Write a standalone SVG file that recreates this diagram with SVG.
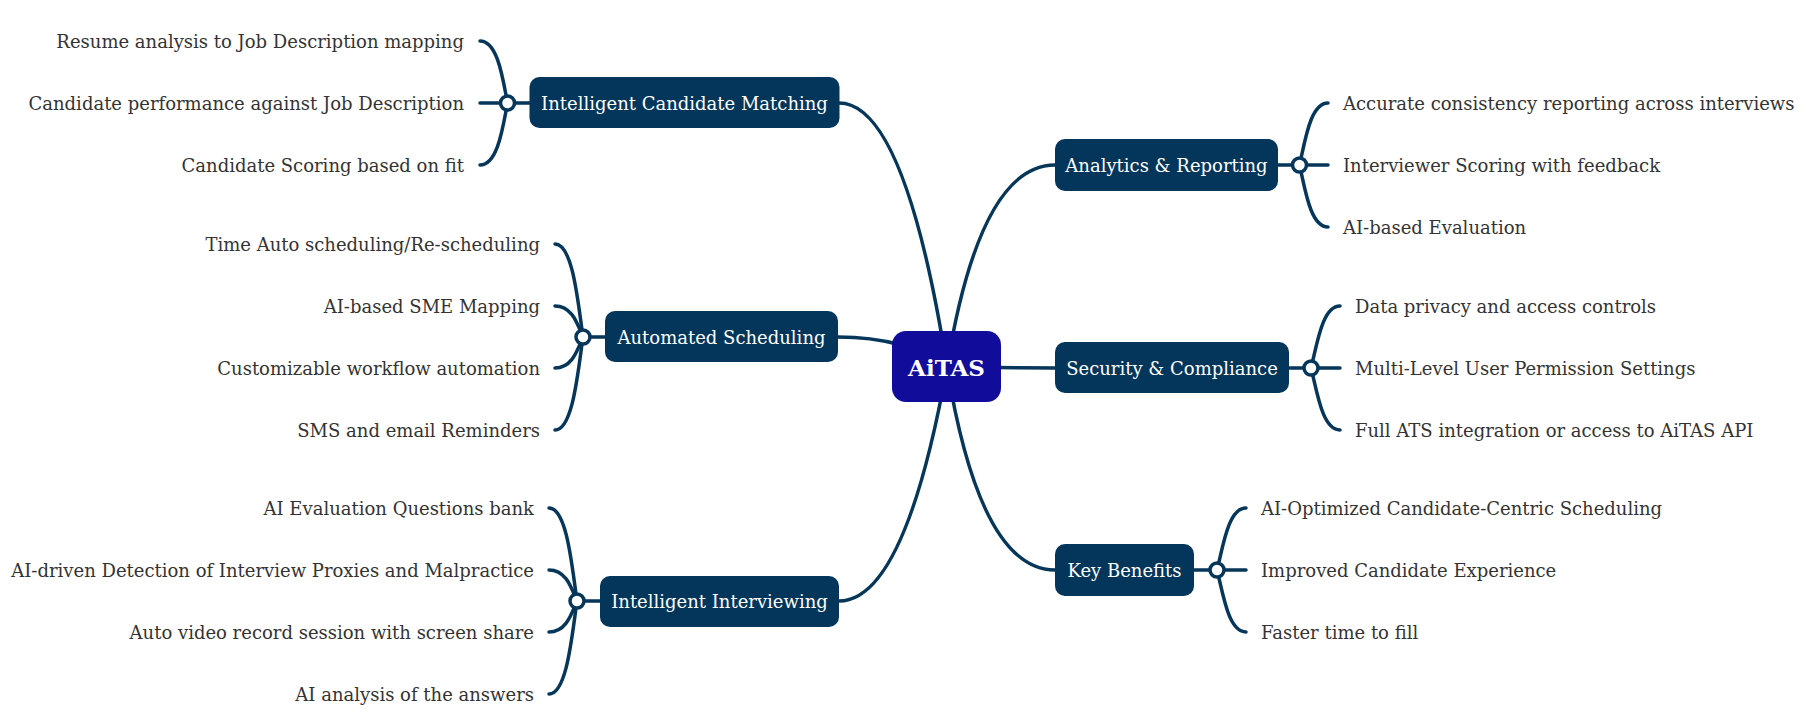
<svg xmlns="http://www.w3.org/2000/svg" width="1808" height="721" viewBox="0 0 1808 721">
<style>
.bg{fill:#ffffff}
.ln{fill:none;stroke:#06365a;stroke-width:3.5;stroke-linecap:round}
.dot{fill:#ffffff;stroke:#06365a;stroke-width:3.5}
.box{fill:#03365a}
.root{fill:#120c9a}
.lbl{font-family:"DejaVu Serif","Liberation Serif",serif;font-size:18px;fill:#ffffff;text-anchor:middle;dominant-baseline:central}
.rlbl{font-family:"DejaVu Serif","Liberation Serif",serif;font-size:23px;font-weight:bold;fill:#ffffff;text-anchor:middle;dominant-baseline:central}
.lf{font-family:"DejaVu Serif","Liberation Serif",serif;font-size:18px;fill:#333333;dominant-baseline:central}
.l{text-anchor:end}
.r{text-anchor:start}
</style>
<rect class="bg" x="0" y="0" width="1808" height="721"/>
<g id="connectors">
<path class="ln" d="M947,367 Q905,103 839,103"/>
<path class="ln" d="M947,367 Q905,337 838,337"/>
<path class="ln" d="M947,367 Q905,601 839,601"/>
<path class="ln" d="M947,367 Q980,165 1055,165"/>
<path class="ln" d="M947,367 L1055,368"/>
<path class="ln" d="M947,367 Q980,570 1055,570"/>
<path class="ln" d="M480,41 C498,41 503,80 507.5,103"/>
<path class="ln" d="M480,103 L529.5,103"/>
<path class="ln" d="M480,165 C498,165 503,126 507.5,103"/>
<path class="ln" d="M555,244 C573,244 578,303 583,337"/>
<path class="ln" d="M555,306 C573,306 578,326 583,337"/>
<path class="ln" d="M555,368 C573,368 578,348 583,337"/>
<path class="ln" d="M555,430 C573,430 578,371 583,337"/>
<path class="ln" d="M583,337 L605,337"/>
<path class="ln" d="M549,508 C567,508 572,567 577,601"/>
<path class="ln" d="M549,570 C567,570 572,590 577,601"/>
<path class="ln" d="M549,632 C567,632 572,612 577,601"/>
<path class="ln" d="M549,694 C567,694 572,635 577,601"/>
<path class="ln" d="M577,601 L600,601"/>
<path class="ln" d="M1328,103 C1310,103 1305,142 1299.5,165"/>
<path class="ln" d="M1278,165 L1328,165"/>
<path class="ln" d="M1328,227 C1310,227 1305,188 1299.5,165"/>
<path class="ln" d="M1340,306 C1322,306 1317,345 1311,368"/>
<path class="ln" d="M1289,368 L1340,368"/>
<path class="ln" d="M1340,430 C1322,430 1317,391 1311,368"/>
<path class="ln" d="M1246,508 C1228,508 1223,547 1217,570"/>
<path class="ln" d="M1194,570 L1246,570"/>
<path class="ln" d="M1246,632 C1228,632 1223,593 1217,570"/>
<circle class="dot" cx="507.5" cy="103" r="7"/>
<circle class="dot" cx="583" cy="337" r="7"/>
<circle class="dot" cx="577" cy="601" r="7"/>
<circle class="dot" cx="1299.5" cy="165" r="7"/>
<circle class="dot" cx="1311" cy="368" r="7"/>
<circle class="dot" cx="1217" cy="570" r="7"/>
</g>
<g id="root">
<rect class="root" x="892" y="331" width="109" height="71" rx="14"/>
<text class="rlbl" x="946.5" y="367">AiTAS</text>
</g>
<g id="n-icm">
<rect class="box" x="529.5" y="77" width="310" height="51" rx="10"/>
<text class="lbl" x="684.5" y="103">Intelligent Candidate Matching</text>
</g>
<g id="n-as">
<rect class="box" x="605" y="311" width="233" height="51" rx="10"/>
<text class="lbl" x="721.5" y="337">Automated Scheduling</text>
</g>
<g id="n-ii">
<rect class="box" x="600" y="576" width="239" height="51" rx="10"/>
<text class="lbl" x="719.5" y="601">Intelligent Interviewing</text>
</g>
<g id="n-ar">
<rect class="box" x="1055" y="139" width="223" height="52" rx="10"/>
<text class="lbl" x="1166.5" y="165">Analytics &amp; Reporting</text>
</g>
<g id="n-sc">
<rect class="box" x="1055" y="342" width="234" height="51" rx="10"/>
<text class="lbl" x="1172" y="368">Security &amp; Compliance</text>
</g>
<g id="n-kb">
<rect class="box" x="1055" y="544" width="139" height="52" rx="10"/>
<text class="lbl" x="1124.5" y="570">Key Benefits</text>
</g>
<g id="leaf-icm-1"><text class="lf l" x="464" y="41">Resume analysis to Job Description mapping</text></g>
<g id="leaf-icm-2"><text class="lf l" x="464" y="103">Candidate performance against Job Description</text></g>
<g id="leaf-icm-3"><text class="lf l" x="464" y="165">Candidate Scoring based on fit</text></g>
<g id="leaf-as-1"><text class="lf l" x="540" y="244">Time Auto scheduling/Re-scheduling</text></g>
<g id="leaf-as-2"><text class="lf l" x="540" y="306">AI-based SME Mapping</text></g>
<g id="leaf-as-3"><text class="lf l" x="540" y="368">Customizable workflow automation</text></g>
<g id="leaf-as-4"><text class="lf l" x="540" y="430">SMS and email Reminders</text></g>
<g id="leaf-ii-1"><text class="lf l" x="534" y="508">AI Evaluation Questions bank</text></g>
<g id="leaf-ii-2"><text class="lf l" x="534" y="570">AI-driven Detection of Interview Proxies and Malpractice</text></g>
<g id="leaf-ii-3"><text class="lf l" x="534" y="632">Auto video record session with screen share</text></g>
<g id="leaf-ii-4"><text class="lf l" x="534" y="694">AI analysis of the answers</text></g>
<g id="leaf-ar-1"><text class="lf r" x="1343" y="103">Accurate consistency reporting across interviews</text></g>
<g id="leaf-ar-2"><text class="lf r" x="1343" y="165">Interviewer Scoring with feedback</text></g>
<g id="leaf-ar-3"><text class="lf r" x="1343" y="227">AI-based Evaluation</text></g>
<g id="leaf-sc-1"><text class="lf r" x="1355" y="306">Data privacy and access controls</text></g>
<g id="leaf-sc-2"><text class="lf r" x="1355" y="368">Multi-Level User Permission Settings</text></g>
<g id="leaf-sc-3"><text class="lf r" x="1355" y="430">Full ATS integration or access to AiTAS API</text></g>
<g id="leaf-kb-1"><text class="lf r" x="1261" y="508">AI-Optimized Candidate-Centric Scheduling</text></g>
<g id="leaf-kb-2"><text class="lf r" x="1261" y="570">Improved Candidate Experience</text></g>
<g id="leaf-kb-3"><text class="lf r" x="1261" y="632">Faster time to fill</text></g>
</svg>
